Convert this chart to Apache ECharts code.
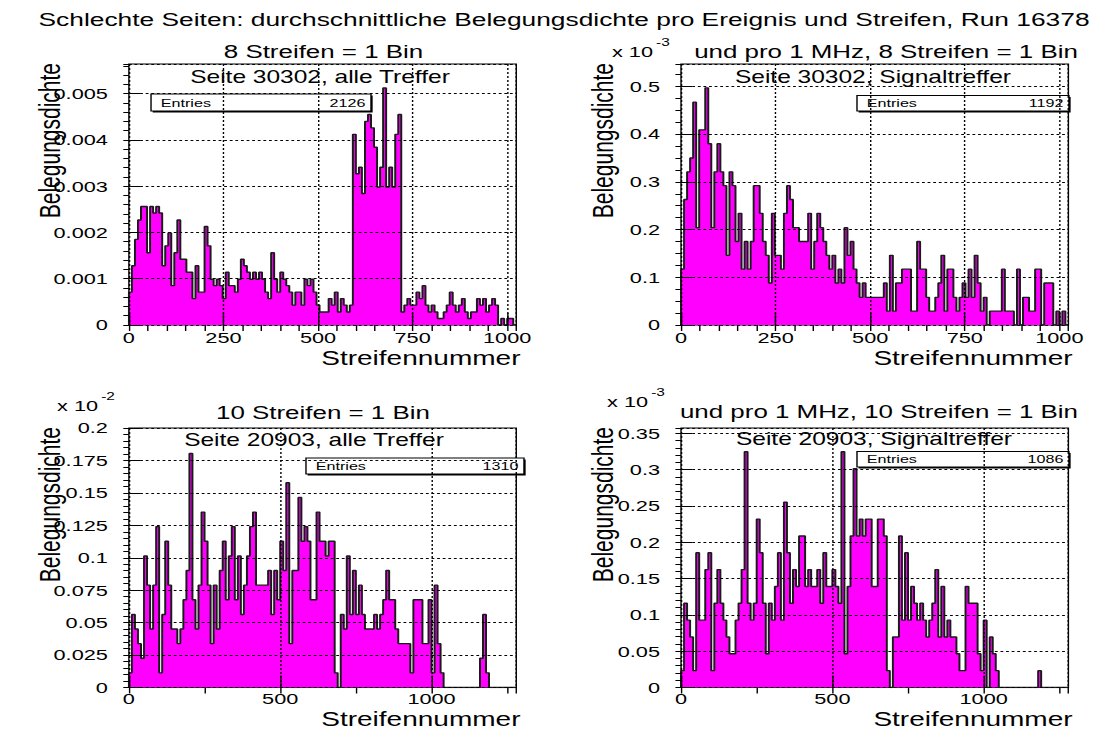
<!DOCTYPE html>
<html>
<head>
<meta charset="utf-8">
<script src="https://cdn.jsdelivr.net/npm/echarts@6/dist/echarts.min.js"></script>
<style>
  html, body { margin: 0; padding: 0; background: #fff; }
  #page { width: 1104px; height: 729px; overflow: hidden; position: relative; background: #fff; }
  /* the canvas is laid out 788 px wide and widened to the page, like the stretched ROOT canvas */
  #chart { width: 788px; height: 729px; transform: scaleX(1.401); transform-origin: 0 0; }
</style>
</head>
<body>
<div id="page"><div id="chart"></div></div>
<script>
// Mean occupancy per event and strip, one value per bin (Run 16378)
// Side 30302, all hits, 8 strips per bin
const seite30302Alle = [
  0.00071,0.00128,0.00185,0.00227,0.00256,0.00256,0.00156,0.00256,0.00242,0.00256,
  0.00242,0.00128,0.00171,0.00199,0.00085,0.00156,0.00227,0.00142,0.00142,0.00114,
  0.00114,0.00057,0.00128,0.00071,0.00071,0.00213,0.00171,0.00099,0.00085,0.00099,
  0.00085,0.00057,0.00114,0.00085,0.00085,0.00071,0.00099,0.00142,0.00128,0.00114,
  0.00099,0.00114,0.00099,0.00114,0.00099,0.00071,0.00057,0.00156,0.00099,0.00071,
  0.00114,0.00099,0.00085,0.00071,0.00043,0.00071,0.00071,0.00043,0.00099,0.00085,
  0.00099,0.00071,0.00043,0.00028,0.00028,0.00028,0.00057,0.00043,0.00071,0.00028,
  0.00057,0.00043,0.00028,0.00043,0.00412,0.00327,0.00341,0.00284,0.0044,0.00455,
  0.00426,0.00384,0.00298,0.00341,0.00512,0.00298,0.00341,0.00298,0.00412,0.00455,
  0.00028,0.00043,0.00057,0.00043,0.00043,0.00071,0.00057,0.00085,0.00043,0.00028,
  0.00043,0.00028,0.00014,0.00014,0.00028,0.00043,0.00071,0.00043,0.00028,0.00043,
  0.00057,0.00028,0.00014,0.00028,0.00028,0.00057,0.00043,0.00057,0.00028,0.00043,
  0.00057,0.00043,0,0.00014,0,0.00014,0.00014,0
];
// Side 30302, signal hits per 1 MHz, 8 strips per bin (axis unit 1e-3)
const seite30302Signal = [
  0.117,0.263,0.321,0.35,0.467,0.204,0.409,0.409,0.497,0.38,
  0.204,0.321,0.38,0.321,0.292,0.146,0.321,0.292,0.175,0.234,
  0.117,0.175,0.117,0.175,0.292,0.292,0.234,0.175,0.146,0.088,
  0.234,0.146,0.146,0.117,0.234,0.292,0.263,0.204,0.204,0.175,
  0.175,0.175,0.234,0.117,0.175,0.234,0.204,0.175,0.146,0.117,
  0.146,0.088,0.117,0.088,0.204,0.146,0.175,0.117,0.088,0.058,
  0.088,0.058,0.058,0.058,0.058,0.058,0.058,0.088,0.029,0.146,
  0.029,0.088,0.088,0.117,0.117,0.117,0.029,0.029,0.175,0.117,
  0.117,0.058,0.029,0.029,0.058,0.088,0.146,0.029,0.117,0.117,
  0.058,0.029,0.058,0.088,0.058,0.117,0.058,0.146,0.088,0.029,
  0.058,0,0.029,0.029,0.029,0.029,0.117,0.029,0.029,0.029,
  0,0.117,0,0.058,0.058,0.029,0.029,0.117,0.117,0,
  0.088,0.088,0.088,0,0.029,0,0.029,0
];
// Side 20903, all hits, 10 strips per bin (axis unit 1e-2)
const seite20903Alle = [
  0.0113,0.0563,0.0451,0.0338,0.0225,0.1014,0.0789,0.0451,0.0789,0.124,
  0.0113,0.0563,0.1127,0.0789,0.0451,0.0451,0.0338,0.0451,0.0676,0.0902,
  0.1803,0.0676,0.0451,0.0789,0.1352,0.1127,0.0789,0.0338,0.0789,0.0451,
  0.0902,0.1127,0.0676,0.1014,0.124,0.0676,0.1014,0.0563,0.0789,0.1014,
  0.124,0.1352,0.0789,0.0789,0.0789,0.0789,0.0902,0.0563,0.0902,0.0676,
  0.1127,0.0902,0.1578,0.0338,0.0902,0.0902,0.1465,0.1127,0.124,0.1127,
  0.0676,0.0676,0.1352,0.1127,0.1127,0.1014,0.1127,0.1127,0.0113,0,
  0.0563,0.0451,0.1014,0.0563,0.0902,0.0563,0.0789,0.0563,0.0451,0.0451,
  0.0451,0.0563,0.0451,0.0563,0.0676,0.0902,0.0676,0.0676,0.0451,0.0338,
  0.0338,0.0338,0.0338,0.0113,0.0676,0.0676,0.0676,0.0338,0.0338,0.0676,
  0.0113,0.0789,0.0338,0.0113,0,0,0,0,0,0,
  0,0,0,0,0,0,0.0225,0.0563,0.0113,0,
  0,0,0,0,0,0,0,0
];
// Side 20903, signal hits per 1 MHz, 10 strips per bin (axis unit 1e-3)
const seite20903Signal = [
  0.0232,0.116,0.0928,0.0696,0.0232,0.1856,0.0928,0.0928,0.1624,0.1856,
  0.0232,0.116,0.1624,0.116,0.0928,0.0696,0.0464,0.0464,0.0928,0.116,
  0.1624,0.3248,0.116,0.0928,0.116,0.232,0.1856,0.116,0.0464,0.116,
  0.0928,0.1392,0.1856,0.0928,0.2552,0.1856,0.116,0.1624,0.1392,0.2088,
  0.2088,0.1392,0.1624,0.1392,0.1392,0.1624,0.116,0.1856,0.1392,0.1392,
  0.1624,0.1392,0.116,0.3248,0.0464,0.1392,0.2088,0.3016,0.2088,0.232,
  0.2088,0.232,0.232,0.1392,0.1392,0.232,0.232,0.2088,0.0232,0,
  0.0696,0.0696,0.2088,0.0928,0.1856,0.0928,0.1392,0.116,0.0928,0.116,
  0.0928,0.0696,0.0928,0.116,0.1624,0.0696,0.1392,0.0696,0.0928,0.0696,
  0.0696,0.0464,0.0232,0.0232,0.1392,0.116,0.116,0.116,0.0464,0.0232,
  0.0928,0,0.0696,0.0464,0.0232,0,0,0,0,0,
  0,0,0,0,0,0,0,0,0.0232,0,
  0,0,0,0,0,0,0,0
];
const entries = [2126, 1192, 1310, 1086];
const stripsPerBin = [8, 8, 10, 10];
const panelTitles = ['8 Streifen = 1 Bin', 'und pro 1 MHz, 8 Streifen = 1 Bin',
                     '10 Streifen = 1 Bin', 'und pro 1 MHz, 10 Streifen = 1 Bin'];
const sideLabels = ['Seite 30302, alle Treffer', 'Seite 30302, Signaltreffer',
                    'Seite 20903, alle Treffer', 'Seite 20903, Signaltreffer'];
const exponents = [null, '-3', '-2', '-3'];
const mainTitle = 'Schlechte Seiten: durchschnittliche Belegungsdichte pro Ereignis und Streifen, Run 16378';
const xTitle = 'Streifennummer';
const yTitle = 'Belegungsdichte';

// axis ranges and frame layout of the four pads
const pads = [
  { values: seite30302Alle,   xMax: 1024, xMajor: 250, xMinor: 50,  yMax: 0.00564, yMajor: 0.001, yMinor: 0.0002, left: 92.0,  top: 64,  height: 261,   labelGap: 5 },
  { values: seite30302Signal, xMax: 1024, xMajor: 250, xMinor: 50,  yMax: 0.547,   yMajor: 0.1,   yMinor: 0.025,  left: 486.1, top: 64,  height: 261,   labelGap: 5 },
  { values: seite20903Alle,   xMax: 1280, xMajor: 500, xMinor: 250, yMax: 0.2,     yMajor: 0.025, yMinor: 0.005,  left: 92.0,  top: 428, height: 259.5, labelGap: 3 },
  { values: seite20903Signal, xMax: 1280, xMajor: 500, xMinor: 250, yMax: 0.3575,  yMajor: 0.05,  yMinor: 0.01,   left: 486.1, top: 428, height: 259.5, labelGap: 3 }
];
const padWidth = 276.5;

const FONT = '"Liberation Sans", Arial, Helvetica, sans-serif';
const dotted = { color: '#000', width: 1, type: [2, 2] };

// histogram outline: points at bin edges, drawn as a step line
function histPoints(values, width) {
  const pts = [[0, 0]];
  values.forEach((v, i) => pts.push([i * width, v]));
  const end = values.length * width;
  pts.push([end, values[values.length - 1]]);
  pts.push([end, 0]);
  return pts;
}
function fmt(v) { return v === 0 ? '0' : String(parseFloat(v.toPrecision(6))); }

const grid = [], xAxis = [], yAxis = [], series = [];
pads.forEach((p, k) => {
  grid.push({ left: p.left, top: p.top, width: padWidth, height: p.height,
    show: true, borderColor: '#000', borderWidth: 1, backgroundColor: 'transparent',
    containLabel: false, outerBoundsMode: 'none' });
  const labelStyle = { color: '#000', fontFamily: FONT, fontSize: 15.5 };
  // main x axis: labels, long ticks and grid lines
  xAxis.push({ type: 'value', gridIndex: k, min: 0, max: p.xMax, interval: p.xMajor, z: 3,
    axisLine: { show: false },
    axisTick: { show: true, inside: true, length: 12, lineStyle: { color: '#000', width: 1 } },
    axisLabel: Object.assign({ margin: p.labelGap, showMaxLabel: false, showMinLabel: true, formatter: fmt }, labelStyle),
    splitLine: { show: true, lineStyle: dotted } });
  // secondary x divisions
  xAxis.push({ type: 'value', gridIndex: k, min: 0, max: p.xMax, interval: p.xMinor, z: 3,
    axisLine: { show: false },
    axisTick: { show: true, inside: true, length: 6, lineStyle: { color: '#000', width: 1 } },
    axisLabel: { show: false }, splitLine: { show: false } });
  yAxis.push({ type: 'value', gridIndex: k, min: 0, max: p.yMax, interval: p.yMajor, z: 3,
    axisLine: { show: false },
    axisTick: { show: true, inside: true, length: 8, lineStyle: { color: '#000', width: 1 } },
    axisLabel: Object.assign({ margin: 15, showMaxLabel: k === 2, showMinLabel: true, formatter: fmt }, labelStyle),
    splitLine: { show: true, lineStyle: dotted } });
  yAxis.push({ type: 'value', gridIndex: k, min: 0, max: p.yMax, interval: p.yMinor, z: 3,
    axisLine: { show: false },
    axisTick: { show: true, inside: true, length: 4, lineStyle: { color: '#000', width: 1 } },
    axisLabel: { show: false }, splitLine: { show: false } });
  series.push({ type: 'line', xAxisIndex: 2 * k, yAxisIndex: 2 * k, step: 'end',
    data: histPoints(p.values, stripsPerBin[k]), symbol: 'none', clip: true, z: 2,
    lineStyle: { color: '#1a1a1a', width: 1.4 },
    areaStyle: { color: '#ff00ff', opacity: 1 } });
});

function txt(text, x, y, size, align, vAlign, extra) {
  return Object.assign({ type: 'text', x: x, y: y, z: 5,
    style: { text: text, font: size + 'px ' + FONT, fill: '#000',
      textAlign: align, align: align, textVerticalAlign: vAlign, verticalAlign: vAlign } }, extra || {});
}

const graphics = [];
graphics.push(txt(mainTitle, 402.6, 19, 18.8, 'center', 'middle'));
const titleX = [230.9, 632.4, 230.5, 627.4];
const titleY = [52, 52, 413, 412];
const sideX = [228.4, 623.1, 224.1, 623.8];
const sideY = [77, 77, 440, 439];
const xTitleY = [358, 358, 719, 719];
const yTitleTop = [63, 63, 427, 427];
pads.forEach((p, k) => {
  graphics.push(txt(panelTitles[k], titleX[k], titleY[k], 18.5, 'center', 'middle'));
  graphics.push(txt(sideLabels[k], sideX[k], sideY[k], 17.5, 'center', 'middle'));
  graphics.push(txt(xTitle, p.left + padWidth + 3, xTitleY[k], 20, 'right', 'middle'));
  graphics.push(txt(yTitle, p.left - 56.3, yTitleTop[k], 21, 'right', 'middle', { rotation: Math.PI / 2 }));
});
// power-of-ten factors of the y axes
const expPos = [null, { x: 436.8, y: 52 }, { x: 40.7, y: 406 }, { x: 433.3, y: 402 }];
exponents.forEach((e, k) => {
  if (!e) return;
  const q = expPos[k];
  graphics.push(txt('x 10', q.x, q.y, 15.5, 'left', 'middle'));
  graphics.push(txt(e, q.x + 31.5, q.y - 10, 11, 'left', 'middle'));
});
// statistics boxes
const boxes = [
  { x: 107.8, y: 94,    w: 157,   h: 17 },
  { x: 611.7, y: 95.5,  w: 151.3, h: 15.5 },
  { x: 218.4, y: 458,   w: 155.6, h: 16 },
  { x: 611.7, y: 451.5, w: 151.3, h: 15.5 }
];
boxes.forEach((b, k) => {
  graphics.push({ type: 'rect', z: 1, shape: { x: b.x + 1.2, y: b.y + 1.5, width: b.w, height: b.h },
    style: { fill: '#000' } });
  graphics.push({ type: 'rect', z: 1, shape: { x: b.x, y: b.y, width: b.w, height: b.h },
    style: { fill: '#fff', stroke: '#000', lineWidth: 1 } });
  graphics.push(txt('Entries', b.x + 7, b.y + b.h / 2, 11.5, 'left', 'middle', { z: 1 }));
  graphics.push(txt(String(entries[k]), b.x + b.w - 4, b.y + b.h / 2, 11.5, 'right', 'middle', { z: 1 }));
});

const chart = echarts.init(document.getElementById('chart'), null, { renderer: 'svg', width: 788, height: 729 });
chart.setOption({
  animation: false,
  backgroundColor: '#fff',
  grid: grid,
  xAxis: xAxis,
  yAxis: yAxis,
  series: series,
  graphic: { elements: graphics }
});
</script>
</body>
</html>
